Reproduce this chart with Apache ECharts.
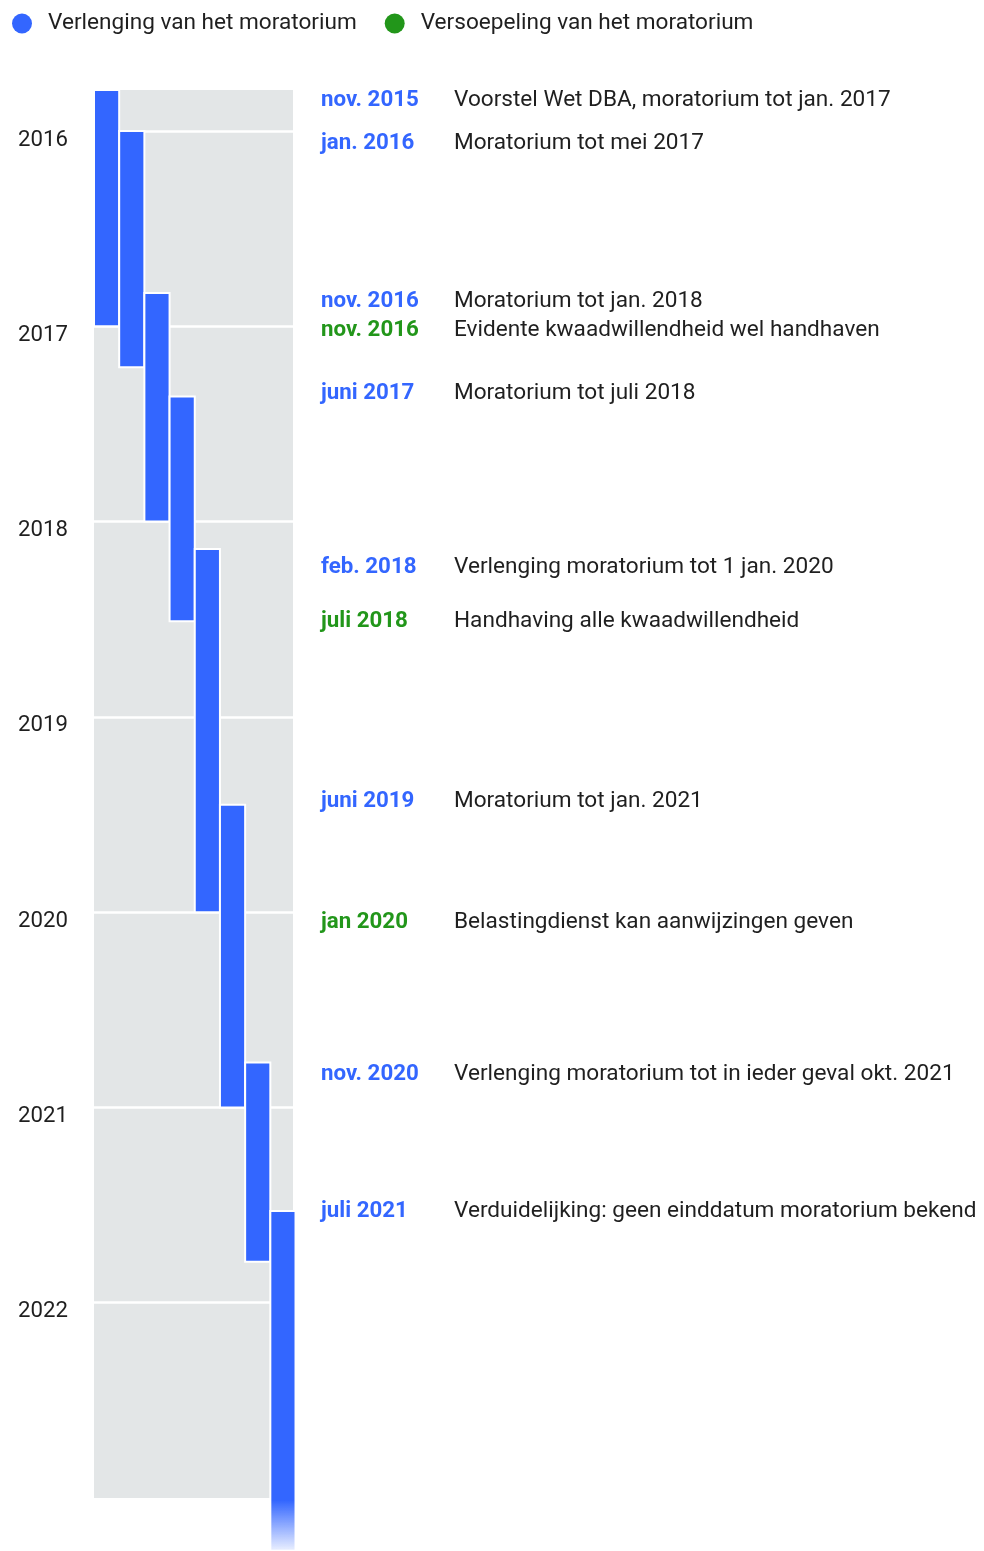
<!DOCTYPE html>
<html>
<head>
<meta charset="utf-8">
<script src="https://cdn.jsdelivr.net/npm/echarts@6/dist/echarts.min.js"></script>
<style>
  html, body { margin: 0; padding: 0; background: #fff; }
  #chart { width: 984px; height: 1551px; }
</style>
</head>
<body>
<div id="chart"></div>
<script>
// moratorium periods, decimal years (start / end of each extension)
var barStart = [2015.79, 2016.0, 2016.83, 2017.36, 2018.14, 2019.45, 2020.77, 2021.53];
var barEnd = [2017.0, 2017.21, 2018.0, 2018.51, 2020.0, 2021.0, 2021.79, 2023.27];

var yearTicks = [2016, 2017, 2018, 2019, 2020, 2021, 2022];

// events on the right hand side
var eventDates = ['nov. 2015', 'jan. 2016', 'nov. 2016', 'nov. 2016', 'juni 2017', 'feb. 2018',
  'juli 2018', 'juni 2019', 'jan 2020', 'nov. 2020', 'juli 2021'];
var eventTexts = [
  'Voorstel Wet DBA, moratorium tot jan. 2017',
  'Moratorium tot mei 2017',
  'Moratorium tot jan. 2018',
  'Evidente kwaadwillendheid wel handhaven',
  'Moratorium tot juli 2018',
  'Verlenging moratorium tot 1 jan. 2020',
  'Handhaving alle kwaadwillendheid',
  'Moratorium tot jan. 2021',
  'Belastingdienst kan aanwijzingen geven',
  'Verlenging moratorium tot in ieder geval okt. 2021',
  'Verduidelijking: geen einddatum moratorium bekend'
];
var eventPos = [2015.83, 2016.05, 2016.86, 2017.01, 2017.33, 2018.22, 2018.50, 2019.42, 2020.04, 2020.82, 2021.52];
// b = verlenging (blue), g = versoepeling (green)
var eventType = ['b', 'b', 'b', 'g', 'b', 'b', 'g', 'b', 'g', 'b', 'b'];

var BLUE = '#3366ff';
var GREEN = '#22961a';
var FONT = 'Roboto';

var chart = echarts.init(document.getElementById('chart'));

var bars = barStart.map(function (s, i) {
  return [i, s, barEnd[i]];
});

function pts(type) {
  var out = [];
  eventDates.forEach(function (d, i) {
    if (eventType[i] === type) {
      out.push({value: [0, eventPos[i]], date: d, text: eventTexts[i]});
    }
  });
  return out;
}

var labelOpt = function (type) {
  return {
    show: true,
    position: 'right',
    distance: 0,
    offset: [0, 2.5],
    formatter: function (p) {
      return '{' + type + '|' + p.data.date + '}{t|' + p.data.text + '}';
    },
    rich: {
      b: {color: BLUE, fontWeight: 'bold', fontSize: 22.3, fontFamily: FONT, width: 133},
      g: {color: GREEN, fontWeight: 'bold', fontSize: 22.3, fontFamily: FONT, width: 133},
      t: {color: '#1f1f1f', fontSize: 22.6, fontFamily: FONT}
    }
  };
};

chart.setOption({
  animation: false,
  textStyle: {fontFamily: FONT},
  legend: {
    left: 7,
    top: 7,
    icon: 'circle',
    itemWidth: 20,
    itemHeight: 20,
    itemGap: 28,
    textStyle: {fontSize: 22.6, color: '#1f1f1f', fontFamily: FONT, padding: [0, 0, 0, 11]},
    data: [
      {name: 'Verlenging van het moratorium', itemStyle: {color: BLUE, opacity: 1}},
      {name: 'Versoepeling van het moratorium', itemStyle: {color: GREEN, opacity: 1}}
    ]
  },
  grid: [
    {left: 94, width: 199, top: 90, bottom: 53, show: true, backgroundColor: '#e3e6e7', borderWidth: 0},
    {left: 321, right: 0, top: 90, bottom: 53}
  ],
  xAxis: [
    {type: 'value', gridIndex: 0, min: 0, max: 7.9, show: false},
    {type: 'value', gridIndex: 1, min: 0, max: 1, show: false}
  ],
  yAxis: [
    {
      type: 'value', gridIndex: 0, inverse: true, min: 2015.79, max: 2023,
      axisLine: {show: false},
      axisTick: {show: false, customValues: yearTicks},
      axisLabel: {
        customValues: yearTicks, margin: 26,
        formatter: function (v) { return '{y|' + v + '}'; },
        rich: {
          y: {fontSize: 22.2, color: '#1f1f1f', fontFamily: FONT, padding: [18, 0, 0, 0]}
        }
      },
      splitLine: {show: true, lineStyle: {color: '#fff', width: 2.5}}
    },
    {type: 'value', gridIndex: 1, inverse: true, min: 2015.79, max: 2023, show: false, splitLine: {show: false}}
  ],
  series: [
    {
      name: 'Verlenging van het moratorium',
      type: 'custom',
      xAxisIndex: 0,
      yAxisIndex: 0,
      clip: false,
      z: 3,
      data: bars,
      renderItem: function (params, api) {
        var i = api.value(0);
        var p0 = api.coord([i, api.value(1)]);
        var p1 = api.coord([i + 1, api.value(2)]);
        var fill = BLUE;
        if (params.dataIndex === bars.length - 1) {
          fill = new echarts.graphic.LinearGradient(0, 0, 0, 1, [
            {offset: 0, color: BLUE},
            {offset: 0.85, color: BLUE},
            {offset: 1, color: 'rgba(51,102,255,0.08)'}
          ]);
        }
        return {
          type: 'rect',
          shape: {x: p0[0], y: p0[1], width: p1[0] - p0[0], height: p1[1] - p0[1]},
          style: {fill: fill, stroke: '#fff', lineWidth: 2}
        };
      },
      itemStyle: {color: BLUE}
    },
    {
      name: 'Verlenging van het moratorium',
      type: 'scatter',
      xAxisIndex: 1,
      yAxisIndex: 1,
      symbolSize: 0,
      itemStyle: {color: BLUE, opacity: 1},
      label: labelOpt('b'),
      data: pts('b')
    },
    {
      name: 'Versoepeling van het moratorium',
      type: 'scatter',
      xAxisIndex: 1,
      yAxisIndex: 1,
      symbolSize: 0,
      itemStyle: {color: GREEN, opacity: 1},
      label: labelOpt('g'),
      data: pts('g')
    }
  ]
});
</script>
</body>
</html>
